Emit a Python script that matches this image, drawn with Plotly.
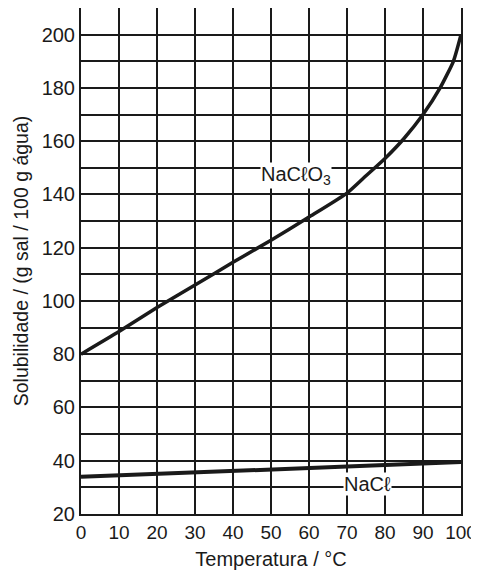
import plotly.graph_objects as go

temp = [0, 10, 20, 30, 40, 50, 60, 70, 75, 80, 85, 90, 94.5, 98, 100]
naclo3 = [80, 88.5, 97.5, 106, 114.5, 122.8, 131.5, 140.5, 147, 153.5, 161, 170, 180, 190, 200]
temp_nacl = [0, 10, 20, 30, 40, 50, 60, 70, 80, 90, 100]
nacl = [34, 34.5, 35, 35.6, 36.2, 36.7, 37.2, 37.8, 38.4, 39, 39.5]

x_ticks = list(range(0, 101, 10))
y_ticks = list(range(20, 201, 20))

INK = "#1a1a1a"
FONT = "Liberation Sans, Arial"

fig = go.Figure()
fig.add_trace(go.Scatter(x=temp, y=naclo3, mode="lines",
                         line=dict(color=INK, width=3.5, shape="spline", smoothing=0.5), showlegend=False))
fig.add_trace(go.Scatter(x=temp_nacl, y=nacl, mode="lines", line=dict(color=INK, width=4), showlegend=False))

fig.add_annotation(x=56.5, y=147, text="NaCℓO<sub>3</sub>", showarrow=False, bgcolor="white",
                   font=dict(family=FONT, size=20, color=INK), borderpad=0)
fig.add_annotation(x=75.5, y=31.3, text="NaCℓ", showarrow=False, bgcolor="white",
                   font=dict(family=FONT, size=20, color=INK), borderpad=0)

grid = dict(gridcolor=INK, gridwidth=2)
fig.update_xaxes(range=[0, 100], tickvals=x_ticks, showgrid=True, **grid, zeroline=False,
                 showline=True, linecolor=INK, linewidth=2, mirror=True, automargin=False,
                 ticks="", tickfont=dict(size=19, color=INK),
                 title=dict(text="Temperatura / °C", font=dict(size=20, color=INK), standoff=10))
fig.update_yaxes(range=[20, 210], tickvals=y_ticks, showgrid=True, **grid, zeroline=False,
                 minor=dict(dtick=10, tick0=20, showgrid=True, gridcolor=INK, gridwidth=2, ticks=""),
                 showline=True, linecolor=INK, linewidth=2, mirror=True, automargin=False,
                 ticks="", tickfont=dict(size=20, color=INK),
                 title=dict(text="Solubilidade / (g sal / 100 g água)", font=dict(size=19.5, color=INK), standoff=8))

# the page body adds an 8px offset, so the figure is sized to the remaining window
fig.update_layout(width=471, height=563, margin=dict(l=73, r=18, t=0, b=57),
                  plot_bgcolor="white", paper_bgcolor="white",
                  font=dict(family=FONT, color=INK))
fig.write_html("out.html")
